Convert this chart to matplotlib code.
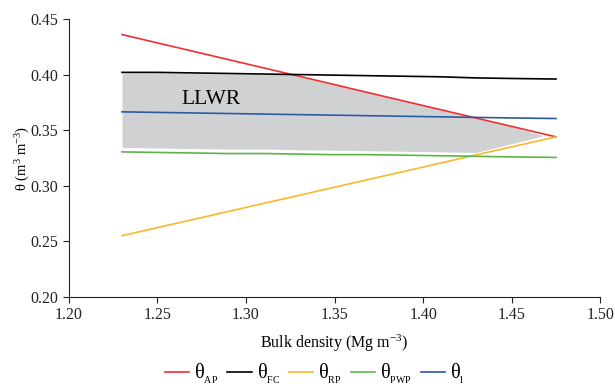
import matplotlib
matplotlib.use("Agg")
import matplotlib.pyplot as plt

plt.rcParams["font.family"] = ["Liberation Serif", "DejaVu Serif"]
plt.rcParams["mathtext.fontset"] = "custom"
plt.rcParams["mathtext.rm"] = "Liberation Serif"
plt.rcParams["mathtext.it"] = "Liberation Serif:italic"

bulk_density = [1.23, 1.25, 1.27, 1.29, 1.31, 1.33, 1.35, 1.37, 1.39, 1.41, 1.43, 1.45, 1.475]
theta_ap = [0.436, 0.4285, 0.421, 0.4135, 0.406, 0.3985, 0.391, 0.3834, 0.3759, 0.3684, 0.3609, 0.3534, 0.344]
theta_fc = [0.402, 0.402, 0.4015, 0.401, 0.4005, 0.400, 0.3995, 0.399, 0.3985, 0.398, 0.397, 0.3965, 0.396]
theta_rp = [0.2551, 0.2624, 0.2696, 0.2769, 0.2842, 0.2914, 0.2987, 0.3060, 0.3132, 0.3205, 0.3278, 0.3350, 0.344]
theta_pwp = [0.3305, 0.330, 0.3295, 0.329, 0.329, 0.3285, 0.328, 0.328, 0.3275, 0.327, 0.3265, 0.326, 0.3255]
theta_l = [0.3665, 0.366, 0.3655, 0.365, 0.3645, 0.364, 0.3635, 0.363, 0.3625, 0.362, 0.3615, 0.361, 0.3605]

# LLWR band as drawn (grey area)
llwr_x = [1.23, 1.25, 1.27, 1.29, 1.31, 1.325, 1.35, 1.37, 1.39, 1.41, 1.43, 1.45, 1.468]
llwr_upper = [0.4015, 0.4015, 0.401, 0.4005, 0.400, 0.400, 0.391, 0.3834, 0.3759, 0.3684, 0.3609, 0.3534, 0.345]
llwr_lower = [0.3345, 0.334, 0.3335, 0.333, 0.333, 0.3325, 0.332, 0.3315, 0.331, 0.3305, 0.330, 0.3379, 0.345]

fig = plt.figure(figsize=(6.15, 3.86), dpi=100)
ax = fig.add_axes([0.112, 0.2306, 0.864, 0.7202])

ax.fill_between(llwr_x, llwr_lower, llwr_upper, color="#d0d1d3", linewidth=0, zorder=1)

lw = 1.2
ax.plot(bulk_density, theta_ap, color="#ee3030", lw=lw, label="θ$_{_{\\mathrm{AP}}}$", zorder=3)
ax.plot(bulk_density, theta_fc, color="#000000", lw=lw, label="θ$_{_{\\mathrm{FC}}}$", zorder=3)
ax.plot(bulk_density, theta_rp, color="#fbb72c", lw=lw, label="θ$_{_{\\mathrm{RP}}}$", zorder=3)
ax.plot(bulk_density, theta_pwp, color="#5bb645", lw=lw, label="θ$_{_{\\mathrm{PWP}}}$", zorder=3)
ax.plot(bulk_density, theta_l, color="#2c5aa0", lw=lw, label="θ$_{_{\\mathrm{l}}}$", zorder=3)

ax.text(1.2633, 0.3776, "LLWR", fontsize=15.5, va="center", ha="left")

ax.set_xlim(1.20, 1.50)
ax.set_ylim(0.20, 0.45)
ax.set_xticks([1.20, 1.25, 1.30, 1.35, 1.40, 1.45, 1.50])
ax.set_yticks([0.20, 0.25, 0.30, 0.35, 0.40, 0.45])
ax.xaxis.set_major_formatter(matplotlib.ticker.FormatStrFormatter("%.2f"))
ax.yaxis.set_major_formatter(matplotlib.ticker.FormatStrFormatter("%.2f"))
ax.tick_params(labelsize=11.5, length=4, width=0.8, direction="out", colors="#222222")
for side in ["top", "right"]:
    ax.spines[side].set_visible(False)
for side in ["left", "bottom"]:
    ax.spines[side].set_linewidth(0.8)
    ax.spines[side].set_color("#222222")

ax.set_xlabel("Bulk density (Mg m$^{-3}$)", fontsize=11.5, labelpad=7)
ax.set_ylabel("θ (m$^{3}$ m$^{-3}$)", fontsize=10.5)
ax.yaxis.set_label_coords(-0.07, 0.5)

fig.legend(loc="center", bbox_to_anchor=(0.512, 0.03), ncol=5, frameon=False,
           fontsize=14.5, handlelength=1.2, columnspacing=0.45, handletextpad=0.25)

fig.savefig("out.png", dpi=100)
